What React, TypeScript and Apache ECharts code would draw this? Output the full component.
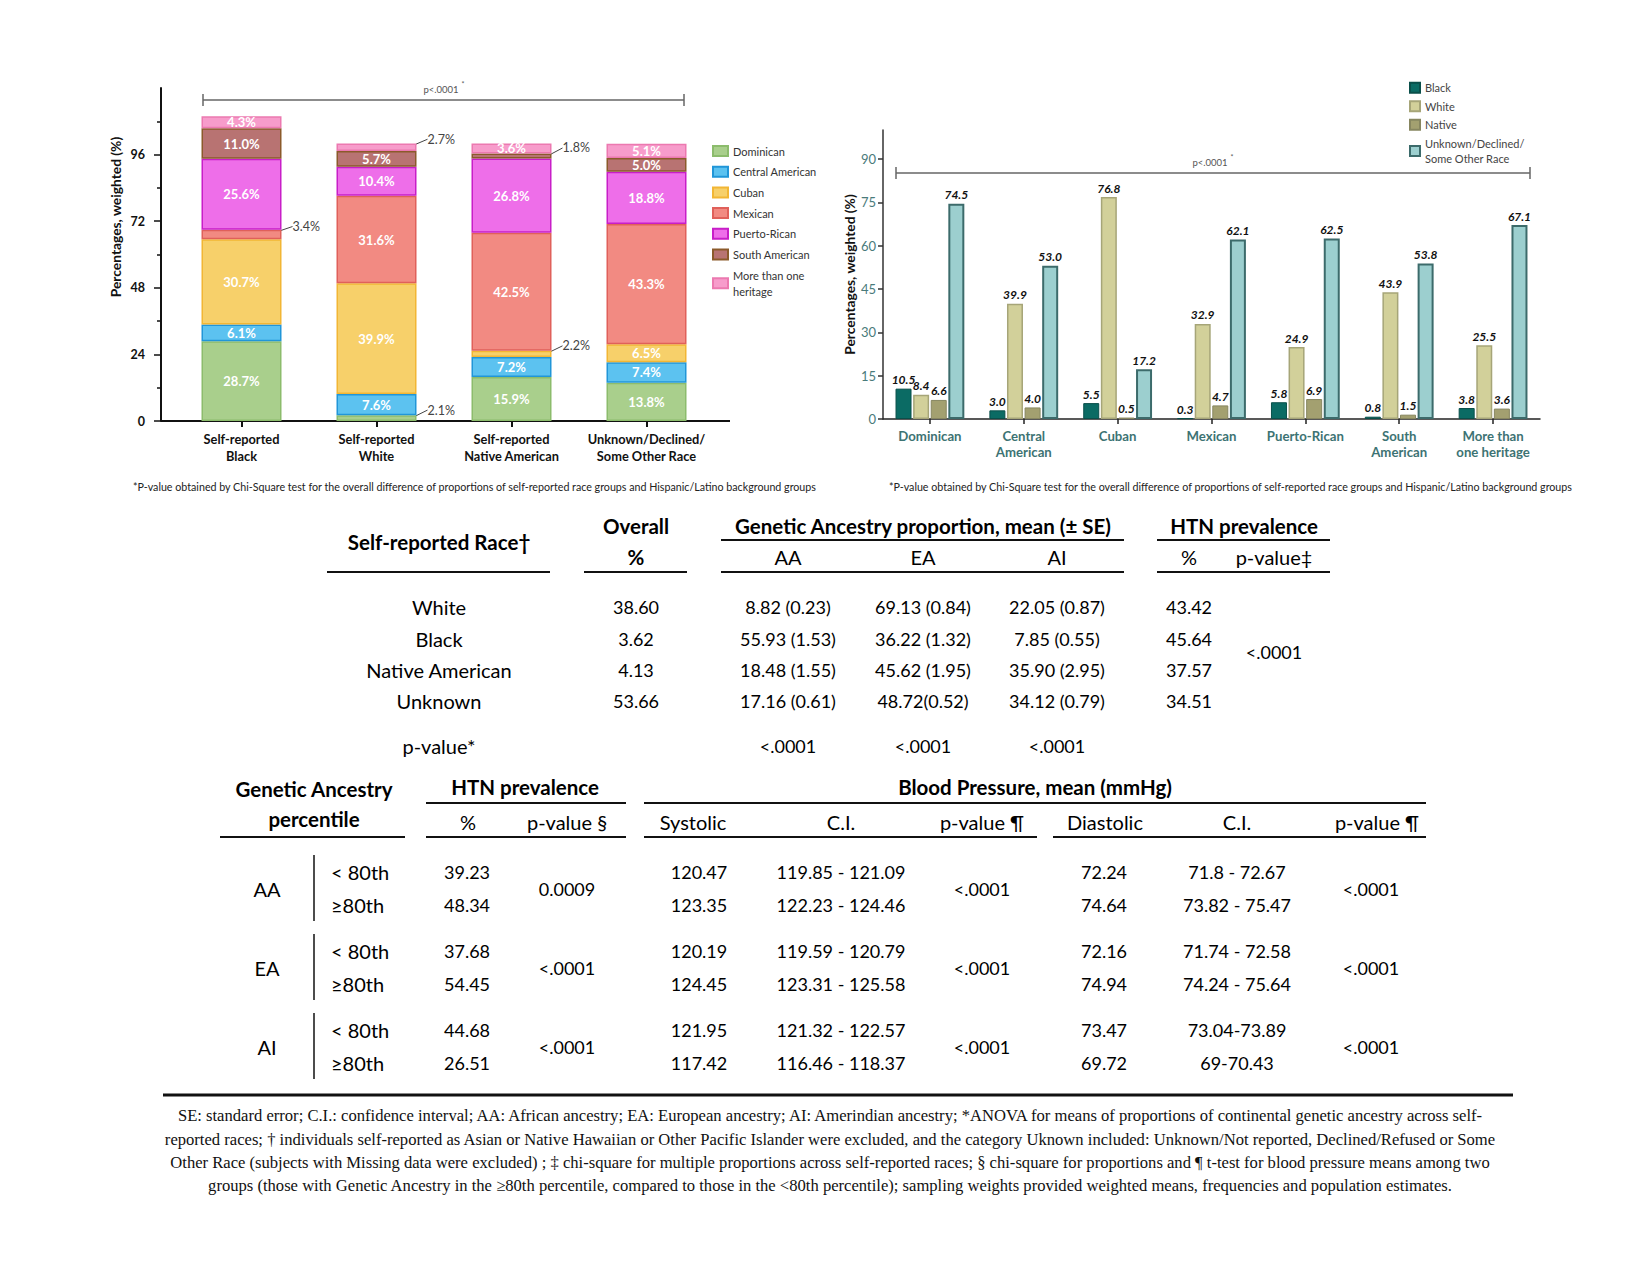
import React, { useEffect, useRef } from 'react';
import * as echarts from 'echarts';

// ---------- Left chart data (stacked %) ----------
const raceGroups = ['Self-reported\nBlack', 'Self-reported\nWhite', 'Self-reported\nNative American', 'Unknown/Declined/\nSome Other Race'];
const heritageNames = ['Dominican', 'Central American', 'Cuban', 'Mexican', 'Puerto-Rican', 'South American', 'More than one heritage'];
const dominicanPct = [28.7, 2.1, 15.9, 13.8];
const centralAmericanPct = [6.1, 7.6, 7.2, 7.4];
const cubanPct = [30.7, 39.9, 2.2, 6.5];
const mexicanPct = [3.4, 31.6, 42.5, 43.3];
const puertoRicanPct = [25.6, 10.4, 26.8, 18.8];
const southAmericanPct = [11.0, 5.7, 1.8, 5.0];
const multiHeritagePct = [4.3, 2.7, 3.6, 5.1];
const leftYTicks = [0, 24, 48, 72, 96];
// cells labelled outside with a leader line: [seriesIndex, barIndex]
const calloutCells = [[3, 0], [6, 1], [0, 1], [5, 2], [2, 2]];

// ---------- Right chart data ----------
const heritageAxis = ['Dominican', 'Central\nAmerican', 'Cuban', 'Mexican', 'Puerto-Rican', 'South\nAmerican', 'More than\none heritage'];
const raceNames = ['Black', 'White', 'Native', 'Unknown/Declined/Some Other Race'];
const blackPct = [10.5, 3.0, 5.5, 0.3, 5.8, 0.8, 3.8];
const whitePct = [8.4, 39.9, 76.8, 32.9, 24.9, 43.9, 25.5];
const nativePct = [6.6, 4.0, 0.5, 4.7, 6.9, 1.5, 3.6];
const unknownPct = [74.5, 53.0, 17.2, 62.1, 62.5, 53.8, 67.1];
const rightYTicks = [0, 15, 30, 45, 60, 75, 90];

// ---------- Table 1 ----------
const t1Races = ['White', 'Black', 'Native American', 'Unknown'];
const t1Overall = ['38.60', '3.62', '4.13', '53.66'];
const t1AA = ['8.82 (0.23)', '55.93 (1.53)', '18.48 (1.55)', '17.16 (0.61)'];
const t1EA = ['69.13 (0.84)', '36.22 (1.32)', '45.62 (1.95)', '48.72(0.52)'];
const t1AI = ['22.05 (0.87)', '7.85 (0.55)', '35.90 (2.95)', '34.12 (0.79)'];
const t1HTN = ['43.42', '45.64', '37.57', '34.51'];
const t1HTNp = '<.0001';
const t1AnovaP = ['<.0001', '<.0001', '<.0001'];

// ---------- Table 2 ----------
const t2Groups = ['AA', 'EA', 'AI'];
const t2Percentiles = ['< 80th', '≥80th'];
const t2HtnPct = [['39.23', '48.34'], ['37.68', '54.45'], ['44.68', '26.51']];
const t2HtnP = ['0.0009', '<.0001', '<.0001'];
const t2Sys = [['120.47', '123.35'], ['120.19', '124.45'], ['121.95', '117.42']];
const t2SysCI = [['119.85 - 121.09', '122.23 - 124.46'], ['119.59 - 120.79', '123.31 - 125.58'], ['121.32 - 122.57', '116.46 - 118.37']];
const t2SysP = ['<.0001', '<.0001', '<.0001'];
const t2Dia = [['72.24', '74.64'], ['72.16', '74.94'], ['73.47', '69.72']];
const t2DiaCI = [['71.8 - 72.67', '73.82 - 75.47'], ['71.74 - 72.58', '74.24 - 75.64'], ['73.04-73.89', '69-70.43']];
const t2DiaP = ['<.0001', '<.0001', '<.0001'];

const chartNote = '*P-value obtained by Chi-Square test for the overall difference of proportions of self-reported race groups and Hispanic/Latino background groups';
const footnoteLines = [
  'SE: standard error; C.I.: confidence interval; AA: African ancestry; EA: European ancestry; AI: Amerindian ancestry; *ANOVA for means of proportions of continental genetic ancestry across self-',
  'reported races; † individuals self-reported as Asian or Native Hawaiian or Other Pacific Islander were excluded, and the category Uknown included: Unknown/Not reported, Declined/Refused or Some',
  'Other Race (subjects with Missing data were excluded) ; ‡ chi-square for multiple proportions across self-reported races; § chi-square for proportions and ¶ t-test for blood pressure means among two',
  'groups (those with Genetic Ancestry in the ≥80th percentile, compared to those in the <80th percentile); sampling weights provided weighted means, frequencies and population estimates.',
];

const FONT = 'Lato';

const leftColors = [
  ['#a9cf8c', '#8cbc6c'],
  ['#5cc2f0', '#2196d8'],
  ['#f7d06a', '#f2b634'],
  ['#f28a82', '#e0605a'],
  ['#ee6ee9', '#c81ec8'],
  ['#b87372', '#8b5a2b'],
  ['#f79ccb', '#ec79b0'],
];
const rightColors = [
  ['#0b6b64', '#0a4f4a', 1],
  ['#d2d09a', '#a6a578', 1.5],
  ['#a3a070', '#878660', 1],
  ['#9ccfcf', '#3c6b6b', 2],
];

function txt(x: number, y: number, text: string, size: number, opts: any = {}) {
  return {
    type: 'text',
    x,
    y,
    silent: true,
    rotation: opts.rotation ?? 0,
    style: {
      text,
      align: opts.align ?? 'center',
      verticalAlign: 'middle',
      fontFamily: opts.family ?? FONT,
      fontSize: size,
      fontWeight: opts.bold ? 'bold' : 'normal',
      fill: opts.color ?? '#000',
    },
  };
}
function ln(x1: number, y1: number, x2: number, y2: number, w = 2, color = '#111') {
  return { type: 'line', silent: true, shape: { x1, y1, x2, y2 }, style: { stroke: color, lineWidth: w } };
}

function buildGraphic() {
  const g: any[] = [];
  // left x axis line and y axis title
  g.push(ln(161, 421, 730, 421, 2, '#111'));
  g.push(txt(115, 217, 'Percentages, weighted (%)', 13.8, { bold: true, rotation: Math.PI / 2, color: '#111' }));
  // brackets
  g.push(ln(203, 100, 684, 100, 1.5, '#666'), ln(203, 94, 203, 106, 1.5, '#666'), ln(684, 94, 684, 106, 1.5, '#666'));
  g.push(txt(441, 89, 'p<.0001', 9.5, { color: '#555' }), txt(463, 84, '*', 7, { color: '#555' }));
  g.push(ln(896, 173, 1530, 173, 1.5, '#666'), ln(896, 167, 896, 179, 1.5, '#666'), ln(1530, 167, 1530, 179, 1.5, '#666'));
  g.push(txt(1210, 162, 'p<.0001', 9.5, { color: '#555' }), txt(1232, 157, '*', 7, { color: '#555' }));
  // chart notes
  g.push(txt(133, 486, chartNote, 10.7, { align: 'left', color: '#222' }));
  g.push(txt(889, 486, chartNote, 10.7, { align: 'left', color: '#222' }));

  // ---- Table 1 ----
  const H = 20.5; // bold headers
  const L = 20;   // word cells
  const N = 18;   // numeric cells
  g.push(txt(439, 542, 'Self-reported Race†', H, { bold: true }));
  g.push(txt(636, 526, 'Overall', H, { bold: true }), txt(636, 557, '%', H, { bold: true }));
  g.push(txt(923, 526, 'Genetic Ancestry proportion, mean (± SE)', H, { bold: true }));
  g.push(txt(788, 557, 'AA', L), txt(923, 557, 'EA', L), txt(1057, 557, 'AI', L));
  g.push(txt(1244, 526, 'HTN prevalence', H, { bold: true }));
  g.push(txt(1189, 557, '%', L), txt(1274, 557, 'p-value‡', L));
  g.push(ln(721, 540, 1124, 540), ln(1157, 540, 1330, 540));
  g.push(ln(327, 572, 550, 572), ln(584, 572, 687, 572), ln(721, 572, 1124, 572), ln(1157, 572, 1330, 572));
  const rowY = [607, 639, 670, 701];
  t1Races.forEach((r, i) => {
    const y = rowY[i];
    g.push(txt(439, y, r, L), txt(636, y, t1Overall[i], N), txt(788, y, t1AA[i], N), txt(923, y, t1EA[i], N), txt(1057, y, t1AI[i], N), txt(1189, y, t1HTN[i], N));
  });
  g.push(txt(1274, 652, t1HTNp, N));
  g.push(txt(439, 746, 'p-value*', L));
  [788, 923, 1057].forEach((x, i) => g.push(txt(x, 746, t1AnovaP[i], N)));

  // ---- Table 2 ----
  g.push(txt(314, 789, 'Genetic Ancestry', H, { bold: true }), txt(314, 819, 'percentile', H, { bold: true }));
  g.push(txt(525, 787, 'HTN prevalence', H, { bold: true }));
  g.push(txt(1035, 787, 'Blood Pressure, mean (mmHg)', H, { bold: true }));
  const subs: [number, string][] = [[468, '%'], [567, 'p-value §'], [693, 'Systolic'], [841, 'C.I.'], [982, 'p-value ¶'], [1105, 'Diastolic'], [1237, 'C.I.'], [1377, 'p-value ¶']];
  subs.forEach(([x, s]) => g.push(txt(x, 822, s, L)));
  g.push(ln(426, 803, 626, 803), ln(644, 803, 1426, 803));
  g.push(ln(220, 837, 405, 837), ln(426, 837, 626, 837), ln(644, 837, 1037, 837), ln(1053, 837, 1426, 837));
  const groupRows = [[872, 905], [951, 984], [1030, 1063]];
  t2Groups.forEach((grp, gi) => {
    const [y1, y2] = groupRows[gi];
    const ym = (y1 + y2) / 2;
    g.push(txt(267, ym, grp, L));
    g.push(ln(314, y1 - 17, 314, y2 + 16, 1.5));
    [y1, y2].forEach((y, k) => {
      g.push(txt(331, y, t2Percentiles[k], L, { align: 'left' }));
      g.push(txt(467, y, t2HtnPct[gi][k], N));
      g.push(txt(699, y, t2Sys[gi][k], N));
      g.push(txt(841, y, t2SysCI[gi][k], N));
      g.push(txt(1104, y, t2Dia[gi][k], N));
      g.push(txt(1237, y, t2DiaCI[gi][k], N));
    });
    g.push(txt(567, ym, t2HtnP[gi], N), txt(982, ym, t2SysP[gi], N), txt(1371, ym, t2DiaP[gi], N));
  });
  g.push(ln(163, 1095, 1513, 1095, 3));
  const fy = [1115, 1139, 1162, 1185];
  footnoteLines.forEach((s, i) => g.push(txt(830, fy[i], s, 16.6, { family: 'Liberation Serif', color: '#111' })));
  return g;
}

function buildOption(): any {
  const leftSeriesData = [dominicanPct, centralAmericanPct, cubanPct, mexicanPct, puertoRicanPct, southAmericanPct, multiHeritagePct];
  const leftSeries = heritageNames.map((name, si) => ({
    name,
    type: 'bar',
    stack: 'total',
    xAxisIndex: 0,
    yAxisIndex: 0,
    barWidth: 80,
    itemStyle: { color: leftColors[si][0], borderColor: leftColors[si][1], borderWidth: 1.5 },
    label: {
      show: true,
      position: 'inside',
      color: '#fff',
      fontFamily: FONT,
      fontWeight: 'bold',
      fontSize: 13,
      formatter: (p: any) => Number(p.value).toFixed(1) + '%',
    },
    labelLayout: (p: any) => {
      const isCallout = calloutCells.some(([s, b]) => s === si && b === p.dataIndex);
      if (!isCallout) return {};
      const r = p.rect;
      const right = r.x + r.width;
      const cy = r.y + r.height / 2;
      return {
        x: right + 11,
        y: cy - 8,
        align: 'left',
        verticalAlign: 'middle',
        labelLinePoints: [[right - 10, cy + 1], [right + 10, cy - 7]],
      };
    },
    data: leftSeriesData[si].map((v, bi) => {
      const isCallout = calloutCells.some(([s, b]) => s === si && b === bi);
      if (!isCallout) return v;
      return {
        value: v,
        label: { position: 'right', color: '#444', fontWeight: 'normal', fontSize: 12.5 },
        labelLine: { show: true, lineStyle: { color: '#444', width: 1 } },
      };
    }),
  }));

  const rightData = [blackPct, whitePct, nativePct, unknownPct];
  const rightSeries = raceNames.map((name, si) => ({
    name,
    type: 'bar',
    xAxisIndex: 1,
    yAxisIndex: 1,
    barWidth: 16,
    barGap: '10%',
    itemStyle: { color: rightColors[si][0], borderColor: rightColors[si][1], borderWidth: rightColors[si][2] },
    label: {
      show: true,
      position: 'top',
      distance: 3,
      color: '#111',
      fontFamily: FONT,
      fontWeight: 'bold',
      fontStyle: 'italic',
      fontSize: 12,
      formatter: (p: any) => Number(p.value).toFixed(1),
    },
    data: rightData[si],
  }));

  return {
    animation: false,
    backgroundColor: '#fff',
    textStyle: { fontFamily: FONT },
    grid: [
      { left: 174, top: 88, width: 540, height: 333, containLabel: false },
      { left: 883, top: 130, width: 657, height: 289, containLabel: false },
    ],
    xAxis: [
      {
        type: 'category',
        gridIndex: 0,
        data: raceGroups,
        axisLine: { show: false },
        axisTick: { show: true, alignWithLabel: true, length: 6, lineStyle: { color: '#111', width: 2 } },
        axisLabel: { interval: 0, margin: 9, color: '#111', fontWeight: 'bold', fontSize: 12.8, lineHeight: 17, fontFamily: FONT },
      },
      {
        type: 'category',
        gridIndex: 1,
        data: heritageAxis,
        axisLine: { show: true, lineStyle: { color: '#222', width: 1.5 } },
        axisTick: { show: true, alignWithLabel: true, length: 5, lineStyle: { color: '#222', width: 1.5 } },
        axisLabel: { interval: 0, margin: 9, color: '#3d7373', fontWeight: 'bold', fontSize: 13.2, lineHeight: 16, fontFamily: FONT },
      },
    ],
    yAxis: [
      {
        type: 'value',
        gridIndex: 0,
        min: 0,
        max: 120,
        interval: 24,
        offset: 13,
        axisLine: { show: true, lineStyle: { color: '#111', width: 2 } },
        axisTick: { show: true, length: 7, customValues: leftYTicks, lineStyle: { color: '#111', width: 1.5 } },
        minorTick: { show: true, splitNumber: 2, length: 4, lineStyle: { color: '#111', width: 1.5 } },
        splitLine: { show: false },
        minorSplitLine: { show: false },
        axisLabel: { customValues: leftYTicks, margin: 16, color: '#111', fontWeight: 'bold', fontSize: 12.5, fontFamily: FONT },
      },
      {
        type: 'value',
        gridIndex: 1,
        min: 0,
        max: 100,
        interval: 15,
        name: 'Percentages, weighted (%)',
        nameLocation: 'middle',
        nameGap: 27,
        nameRotate: 90,
        nameTextStyle: { fontWeight: 'bold', fontSize: 13.8, color: '#111', fontFamily: FONT },
        axisLine: { show: true, lineStyle: { color: '#333', width: 1.5 } },
        axisTick: { show: true, length: 5, customValues: rightYTicks, lineStyle: { color: '#333', width: 1.5 } },
        splitLine: { show: false },
        axisLabel: { customValues: rightYTicks, margin: 7, color: '#4a7b7b', fontSize: 13, fontFamily: FONT },
      },
    ],
    legend: [
      {
        data: heritageNames,
        orient: 'vertical',
        left: 707,
        top: 138,
        itemWidth: 15,
        itemHeight: 10,
        itemGap: 4.7,
        icon: 'rect',
        selectedMode: false,
        textStyle: { fontSize: 11, lineHeight: 16, color: '#333', fontFamily: FONT },
        formatter: (n: string) => (n === 'More than one heritage' ? 'More than one\nheritage' : n),
      },
      {
        data: raceNames,
        orient: 'vertical',
        left: 1404,
        top: 75,
        itemWidth: 10,
        itemHeight: 10,
        itemGap: 3,
        icon: 'rect',
        selectedMode: false,
        textStyle: { fontSize: 11, lineHeight: 15.5, color: '#444', fontFamily: FONT },
        formatter: (n: string) => (n === 'Unknown/Declined/Some Other Race' ? 'Unknown/Declined/\nSome Other Race' : n),
      },
    ],
    series: [...leftSeries, ...rightSeries],
    graphic: buildGraphic(),
  };
}

export default function App() {
  const ref = useRef<HTMLDivElement>(null);
  useEffect(() => {
    if (!ref.current) return;
    const chart = echarts.init(ref.current, null, { renderer: 'svg' });
    chart.setOption(buildOption());
    return () => chart.dispose();
  }, []);
  return (
    <div
      ref={ref}
      style={{ position: 'absolute', left: 0, top: 0, width: 1650, height: 1275, background: '#fff' }}
    />
  );
}
